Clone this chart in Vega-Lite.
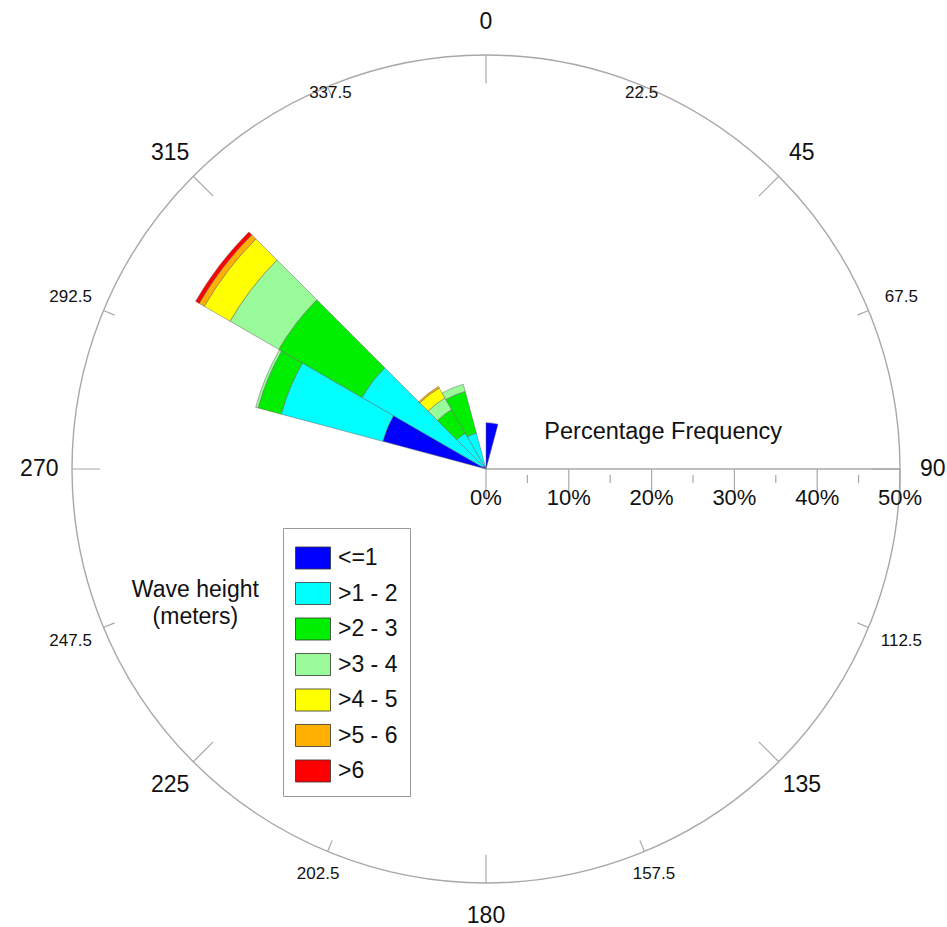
{
  "$schema": "https://vega.github.io/schema/vega-lite/v6.json",
  "width": 828,
  "height": 828,
  "autosize": {"type": "none"},
  "padding": {"left": 72, "top": 55, "right": 47, "bottom": 44},
  "background": "white",
  "config": {"view": {"stroke": null}, "font": "Liberation Sans", "text": {"font": "Liberation Sans", "color": "#111"}},
  "layer": [
    {
      "data": {"values": [{"a": 0, "b": 360}]},
      "mark": {"type": "arc", "fillOpacity": 0, "stroke": "#a8a8a8", "strokeWidth": 1.4},
      "encoding": {
        "theta": {"field": "a", "type": "quantitative", "stack": null, "scale": {"type": "linear", "domain": [0, 360], "range": [0, 6.283185307179586], "zero": false, "nice": false}},
        "theta2": {"field": "b"},
        "radius": {"datum": 50, "type": "quantitative", "scale": {"type": "linear", "domain": [0, 50], "range": [0, 414], "zero": true, "nice": false}}
      }
    },
    {
      "data": {"values": [{"ang": 0}, {"ang": 45}, {"ang": 90}, {"ang": 135}, {"ang": 180}, {"ang": 225}, {"ang": 270}, {"ang": 315}]},
      "mark": {"type": "arc", "fillOpacity": 0, "stroke": "#a8a8a8", "strokeWidth": 1.2},
      "encoding": {
        "theta": {"field": "ang", "type": "quantitative", "stack": null},
        "theta2": {"field": "ang"},
        "radius": {"datum": 50, "type": "quantitative"},
        "radius2": {"datum": 46.6}
      }
    },
    {
      "data": {"values": [{"ang": 22.5}, {"ang": 67.5}, {"ang": 112.5}, {"ang": 157.5}, {"ang": 202.5}, {"ang": 247.5}, {"ang": 292.5}, {"ang": 337.5}]},
      "mark": {"type": "arc", "fillOpacity": 0, "stroke": "#a8a8a8", "strokeWidth": 1.2},
      "encoding": {
        "theta": {"field": "ang", "type": "quantitative", "stack": null},
        "theta2": {"field": "ang"},
        "radius": {"datum": 50, "type": "quantitative"},
        "radius2": {"datum": 48.55}
      }
    },
    {
      "data": {"values": [
        {"d0": 285, "d1": 300, "cls": "<=1", "pct": 12.9},
        {"d0": 285, "d1": 300, "cls": ">1 - 2", "pct": 12.7},
        {"d0": 285, "d1": 300, "cls": ">2 - 3", "pct": 2.9},
        {"d0": 285, "d1": 300, "cls": ">3 - 4", "pct": 0.3},
        {"d0": 300, "d1": 315, "cls": "<=1", "pct": 0.5},
        {"d0": 300, "d1": 315, "cls": ">1 - 2", "pct": 16.8},
        {"d0": 300, "d1": 315, "cls": ">2 - 3", "pct": 11.6},
        {"d0": 300, "d1": 315, "cls": ">3 - 4", "pct": 6.8},
        {"d0": 300, "d1": 315, "cls": ">4 - 5", "pct": 3.6},
        {"d0": 300, "d1": 315, "cls": ">5 - 6", "pct": 0.7},
        {"d0": 300, "d1": 315, "cls": ">6", "pct": 0.5},
        {"d0": 315, "d1": 330, "cls": "<=1", "pct": 0.4},
        {"d0": 315, "d1": 330, "cls": ">1 - 2", "pct": 4.6},
        {"d0": 315, "d1": 330, "cls": ">2 - 3", "pct": 3.3},
        {"d0": 315, "d1": 330, "cls": ">3 - 4", "pct": 1.6},
        {"d0": 315, "d1": 330, "cls": ">4 - 5", "pct": 1.4},
        {"d0": 315, "d1": 330, "cls": ">5 - 6", "pct": 0.2},
        {"d0": 330, "d1": 345, "cls": "<=1", "pct": 0.4},
        {"d0": 330, "d1": 345, "cls": ">1 - 2", "pct": 4.1},
        {"d0": 330, "d1": 345, "cls": ">2 - 3", "pct": 5.2},
        {"d0": 330, "d1": 345, "cls": ">3 - 4", "pct": 0.9},
        {"d0": 0, "d1": 15, "cls": "<=1", "pct": 5.6}
      ]},
      "transform": [{"stack": "pct", "groupby": ["d0"], "sort": [{"field": "cls", "order": "ascending"}], "as": ["r0", "r1"]}],
      "mark": {"type": "arc", "stroke": "#666", "strokeWidth": 0.5},
      "encoding": {
        "theta": {"field": "d0", "type": "quantitative", "stack": null},
        "theta2": {"field": "d1"},
        "radius": {"field": "r1", "type": "quantitative"},
        "radius2": {"field": "r0"},
        "color": {
          "field": "cls", "type": "nominal",
          "scale": {"domain": ["<=1", ">1 - 2", ">2 - 3", ">3 - 4", ">4 - 5", ">5 - 6", ">6"], "range": ["#0000FF", "#00FFFF", "#00EE00", "#99FA99", "#FFFF00", "#FFB000", "#FF0000"]},
          "legend": {
            "title": null, "orient": "none", "legendX": 211, "legendY": 473, "direction": "vertical",
            "symbolType": "M-1,-0.63H1V0.63H-1Z", "symbolSize": 1225,
            "symbolStrokeColor": "#333", "symbolStrokeWidth": 0.8, "symbolOpacity": 1,
            "labelFontSize": 23, "labelFont": "Liberation Sans", "labelColor": "#111", "labelOffset": 7, "labelLimit": 200,
            "rowPadding": 4.5, "padding": 12, "strokeColor": "#999", "fillColor": "white"
          }
        }
      }
    },
    {
      "data": {"values": [{"ang": 0}, {"ang": 45}, {"ang": 90}, {"ang": 135}, {"ang": 180}, {"ang": 225}, {"ang": 270}, {"ang": 315}]},
      "mark": {"type": "text", "fontSize": 23, "align": "center", "baseline": "middle"},
      "encoding": {
        "theta": {"field": "ang", "type": "quantitative", "stack": null},
        "radius": {"datum": 53.95, "type": "quantitative"},
        "text": {"field": "ang", "type": "nominal"}
      }
    },
    {
      "data": {"values": [{"ang": 337.5}, {"ang": 22.5}]},
      "mark": {"type": "text", "fontSize": 17, "align": "center", "baseline": "middle"},
      "encoding": {
        "theta": {"field": "ang", "type": "quantitative", "stack": null},
        "radius": {"datum": 49.1, "type": "quantitative"},
        "text": {"field": "ang", "type": "nominal"}
      }
    },
    {
      "data": {"values": [{"ang": 292.5}, {"ang": 67.5}, {"ang": 247.5}, {"ang": 112.5}]},
      "mark": {"type": "text", "fontSize": 17, "align": "center", "baseline": "middle"},
      "encoding": {
        "theta": {"field": "ang", "type": "quantitative", "stack": null},
        "radius": {"datum": 54.3, "type": "quantitative"},
        "text": {"field": "ang", "type": "nominal"}
      }
    },
    {
      "data": {"values": [{"ang": 202.5}, {"ang": 157.5}]},
      "mark": {"type": "text", "fontSize": 17, "align": "center", "baseline": "middle"},
      "encoding": {
        "theta": {"field": "ang", "type": "quantitative", "stack": null},
        "radius": {"datum": 53, "type": "quantitative"},
        "text": {"field": "ang", "type": "nominal"}
      }
    },
    {
      "data": {"values": [{}]},
      "mark": {"type": "rule", "color": "#a8a8a8", "strokeWidth": 1.4},
      "encoding": {
        "x": {"datum": 0, "type": "quantitative", "axis": null, "scale": {"domain": [-50, 50], "nice": false, "zero": false}},
        "x2": {"datum": 50},
        "y": {"datum": 0, "type": "quantitative", "axis": null, "scale": {"domain": [-50, 50], "nice": false, "zero": false}}
      }
    },
    {
      "data": {"values": [{"p": 0, "lbl": "0%"}, {"p": 10, "lbl": "10%"}, {"p": 20, "lbl": "20%"}, {"p": 30, "lbl": "30%"}, {"p": 40, "lbl": "40%"}, {"p": 50, "lbl": "50%"}]},
      "layer": [
        {
          "mark": {"type": "rule", "color": "#a8a8a8", "strokeWidth": 1.2},
          "encoding": {
            "x": {"field": "p", "type": "quantitative"},
            "y": {"datum": 0, "type": "quantitative"},
            "y2": {"datum": -3.5}
          }
        },
        {
          "mark": {"type": "text", "fontSize": 22, "align": "center", "baseline": "middle"},
          "encoding": {
            "x": {"field": "p", "type": "quantitative"},
            "y": {"datum": -3.45, "type": "quantitative"},
            "text": {"field": "lbl", "type": "nominal"}
          }
        }
      ]
    },
    {
      "data": {"values": [{"p": 5}, {"p": 15}, {"p": 25}, {"p": 35}, {"p": 45}]},
      "mark": {"type": "rule", "color": "#a8a8a8", "strokeWidth": 1.2},
      "encoding": {
        "x": {"field": "p", "type": "quantitative"},
        "y": {"datum": -0.72, "type": "quantitative"},
        "y2": {"datum": -1.7}
      }
    },
    {
      "data": {"values": [{}]},
      "mark": {"type": "text", "fontSize": 23.5, "align": "center", "baseline": "middle", "text": "Percentage Frequency"},
      "encoding": {
        "x": {"datum": 21.4, "type": "quantitative"},
        "y": {"datum": 4.5, "type": "quantitative"}
      }
    },
    {
      "data": {"values": [{}]},
      "mark": {"type": "text", "fontSize": 23, "align": "center", "baseline": "middle", "lineHeight": 27, "text": ["Wave height", "(meters)"]},
      "encoding": {
        "x": {"datum": -35.1, "type": "quantitative"},
        "y": {"datum": -14.6, "type": "quantitative"}
      }
    }
  ]
}
